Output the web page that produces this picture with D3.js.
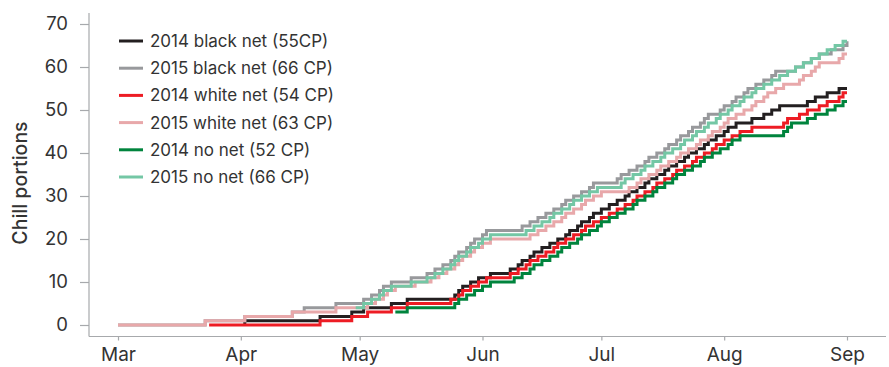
<!DOCTYPE html>
<html><head><meta charset="utf-8">
<script src="https://cdn.jsdelivr.net/npm/d3@7"></script>
<style>
body{margin:0;background:#fff;}
svg{display:block;font-family:Inter,Roboto,"Noto Sans",sans-serif;}
</style></head>
<body><svg id="c" width="889" height="367"></svg>
<script>
// ---- data (month-day, cumulative chill portions) ----
const seriesNames = ["2014 black net (55CP)","2015 black net (66 CP)","2014 white net (54 CP)","2015 white net (63 CP)","2014 no net (52 CP)","2015 no net (66 CP)"];
const seriesColors = ["#231f20","#98999c","#ed1c24","#e8a8aa","#00843d","#74c7a5"];
const monthTicks = ["03-01","04-01","05-01","06-01","07-01","08-01","09-01"];
const yTicks = [0,10,20,30,40,50,60,70];

const black2014 = [["04-02",0],["04-02",1],["04-21",2],["04-29",3],["05-02",4],["05-09",5],["05-13",6],["05-25",7],["05-26",8],["05-27",9],["05-29",10],["05-31",11],["06-03",12],["06-08",13],["06-10",14],["06-11",15],["06-13",16],["06-14",17],["06-16",18],["06-18",19],["06-20",20],["06-22",21],["06-23",22],["06-25",23],["06-26",24],["06-28",25],["06-29",26],["07-01",27],["07-03",28],["07-05",29],["07-07",30],["07-08",31],["07-10",32],["07-12",33],["07-13",34],["07-15",35],["07-17",36],["07-18",37],["07-20",38],["07-22",39],["07-23",40],["07-25",41],["07-27",42],["07-28",43],["07-30",44],["08-01",45],["08-02",46],["08-04",47],["08-08",48],["08-11",49],["08-13",50],["08-15",51],["08-22",52],["08-24",53],["08-27",54],["08-30",55],["09-01",55]];
const black2015 = [["03-01",0],["03-23",1],["04-02",2],["04-14",3],["04-17",4],["04-25",5],["05-02",6],["05-04",7],["05-06",8],["05-07",9],["05-09",10],["05-14",11],["05-18",12],["05-20",13],["05-22",14],["05-24",15],["05-25",16],["05-26",17],["05-28",18],["05-29",19],["05-30",20],["06-01",21],["06-02",22],["06-11",23],["06-13",24],["06-15",25],["06-17",26],["06-19",27],["06-21",28],["06-22",29],["06-24",30],["06-26",31],["06-28",32],["06-29",33],["07-05",34],["07-06",35],["07-08",36],["07-10",37],["07-12",38],["07-13",39],["07-15",40],["07-17",41],["07-18",42],["07-20",43],["07-21",44],["07-23",45],["07-24",46],["07-26",47],["07-27",48],["07-28",49],["07-31",50],["08-01",51],["08-03",52],["08-04",53],["08-06",54],["08-07",55],["08-09",56],["08-11",57],["08-13",58],["08-14",59],["08-19",60],["08-21",61],["08-23",62],["08-25",63],["08-28",64],["08-31",65],["09-01",66]];
const white2014 = [["03-24",0],["04-21",1],["04-29",2],["05-03",3],["05-09",4],["05-13",5],["05-24",6],["05-26",7],["05-27",8],["05-29",9],["05-31",10],["06-02",11],["06-08",12],["06-10",13],["06-12",14],["06-13",15],["06-15",16],["06-17",17],["06-19",18],["06-20",19],["06-22",20],["06-24",21],["06-26",22],["06-27",23],["06-29",24],["07-01",25],["07-03",26],["07-05",27],["07-07",28],["07-09",29],["07-10",30],["07-12",31],["07-14",32],["07-15",33],["07-17",34],["07-19",35],["07-20",36],["07-22",37],["07-24",38],["07-25",39],["07-27",40],["07-29",41],["07-30",42],["08-01",43],["08-03",44],["08-05",45],["08-08",46],["08-16",47],["08-17",48],["08-20",49],["08-22",50],["08-25",51],["08-27",52],["08-30",53],["08-31",54],["09-01",54]];
const white2015 = [["03-01",0],["03-23",1],["04-02",2],["04-14",3],["04-25",4],["05-03",5],["05-05",6],["05-07",7],["05-08",8],["05-10",9],["05-15",10],["05-19",11],["05-21",12],["05-23",13],["05-25",14],["05-26",15],["05-27",16],["05-29",17],["05-30",18],["06-01",19],["06-03",20],["06-13",21],["06-15",22],["06-17",23],["06-19",24],["06-21",25],["06-22",26],["06-24",27],["06-26",28],["06-27",29],["06-29",30],["07-01",31],["07-08",32],["07-10",33],["07-11",34],["07-13",35],["07-15",36],["07-16",37],["07-18",38],["07-20",39],["07-21",40],["07-23",41],["07-25",42],["07-26",43],["07-28",44],["07-29",45],["07-31",46],["08-01",47],["08-02",48],["08-04",49],["08-06",50],["08-08",51],["08-09",52],["08-11",53],["08-12",54],["08-14",55],["08-16",56],["08-20",57],["08-21",58],["08-23",59],["08-24",60],["08-25",61],["08-30",62],["08-31",63],["09-01",63]];
const nonet2014 = [["05-10",3],["05-13",4],["05-25",5],["05-26",6],["05-28",7],["05-30",8],["06-01",9],["06-03",10],["06-09",11],["06-11",12],["06-13",13],["06-14",14],["06-16",15],["06-18",16],["06-20",17],["06-21",18],["06-23",19],["06-25",20],["06-26",21],["06-28",22],["06-30",23],["07-01",24],["07-03",25],["07-05",26],["07-07",27],["07-09",28],["07-10",29],["07-12",30],["07-14",31],["07-15",32],["07-17",33],["07-19",34],["07-20",35],["07-22",36],["07-24",37],["07-26",38],["07-27",39],["07-29",40],["07-31",41],["08-02",42],["08-03",43],["08-05",44],["08-16",45],["08-17",46],["08-18",47],["08-22",48],["08-24",49],["08-27",50],["08-29",51],["08-31",52],["09-01",52]];
const nonet2015 = [["04-30",4],["05-02",5],["05-04",6],["05-06",7],["05-07",8],["05-09",9],["05-14",10],["05-18",11],["05-20",12],["05-22",13],["05-24",14],["05-25",15],["05-26",16],["05-28",17],["05-29",18],["05-31",19],["06-01",20],["06-03",21],["06-12",22],["06-14",23],["06-16",24],["06-18",25],["06-19",26],["06-21",27],["06-23",28],["06-24",29],["06-26",30],["06-28",31],["06-30",32],["07-06",33],["07-07",34],["07-09",35],["07-11",36],["07-12",37],["07-14",38],["07-16",39],["07-17",40],["07-19",41],["07-21",42],["07-22",43],["07-24",44],["07-25",45],["07-27",46],["07-28",47],["07-30",48],["07-31",49],["08-02",50],["08-03",51],["08-05",52],["08-06",53],["08-08",54],["08-09",55],["08-11",56],["08-13",57],["08-15",58],["08-17",59],["08-19",60],["08-21",61],["08-23",62],["08-25",63],["08-27",64],["08-29",65],["08-31",66],["09-01",66]];
const seriesData = [black2014, black2015, white2014, white2015, nonet2014, nonet2015];

// ---- drawing ----
const parse = md => d3.timeParse("%Y-%m-%d")("2001-" + md);
const svg = d3.select("#c");
const x = d3.scaleTime().domain([parse("03-01"), parse("09-01")]).range([118, 847]);
const y = d3.scaleLinear().domain([0, 70]).range([325, 24]);
const axisColor = "#a7a9ac", textColor = "#333";
const fam = "Inter,Roboto,sans-serif";

// axis lines
svg.append("line").attr("x1",89).attr("x2",89).attr("y1",13).attr("y2",336.5).attr("stroke",axisColor).attr("stroke-width",1.2);
svg.append("line").attr("x1",89).attr("x2",886).attr("y1",336.5).attr("y2",336.5).attr("stroke",axisColor).attr("stroke-width",1.2);

const ya = svg.append("g").attr("transform","translate(89,0)")
  .call(d3.axisLeft(y).tickValues(yTicks).tickSize(9).tickPadding(12));
ya.select(".domain").remove();
ya.selectAll("line").attr("stroke",axisColor).attr("stroke-width",1.2);
ya.selectAll("text").attr("fill",textColor).attr("font-size",18.5).attr("font-family",fam);

const xa = svg.append("g").attr("transform","translate(0,336.5)")
  .call(d3.axisBottom(x).tickValues(monthTicks.map(parse)).tickFormat(d3.timeFormat("%b")).tickSize(4).tickPadding(7));
xa.select(".domain").remove();
xa.selectAll("line").attr("stroke",axisColor).attr("stroke-width",1.2);
xa.selectAll("text").attr("fill",textColor).attr("font-size",19).attr("font-family",fam);

svg.append("text").attr("transform","translate(27,183) rotate(-90)").attr("text-anchor","middle")
  .attr("fill",textColor).attr("font-size",19.5).attr("font-weight",500).attr("font-family",fam).text("Chill portions");

const line = d3.line().x(d => x(parse(d[0]))).y(d => y(d[1])).curve(d3.curveStepAfter);
seriesData.forEach((s,i) => {
  svg.append("path").attr("d", line(s)).attr("fill","none").attr("stroke",seriesColors[i])
    .attr("stroke-width",3).attr("stroke-linejoin","miter");
});

// legend
const lg = svg.append("g");
seriesNames.forEach((n,i) => {
  const yy = 41 + i*27.2;
  lg.append("line").attr("x1",119).attr("x2",143).attr("y1",yy).attr("y2",yy).attr("stroke",seriesColors[i]).attr("stroke-width",3);
  lg.append("text").attr("x",150).attr("y",yy).attr("dy","0.35em").attr("fill",textColor).attr("font-size",17).attr("font-family",fam).text(n);
});
</script></body></html>
